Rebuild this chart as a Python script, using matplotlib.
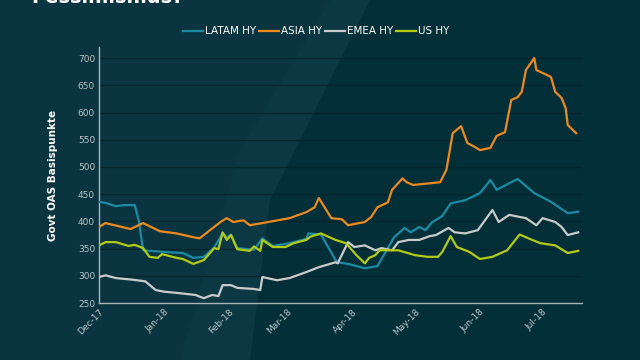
import numpy as np
import pandas as pd
import matplotlib
matplotlib.use("Agg")
import matplotlib.pyplot as plt
import matplotlib.dates as mdates
from matplotlib.patches import Polygon

# --- data (Govt OAS in bp) ---
latam_dates = ["2017-12-01", "2017-12-04", "2017-12-09", "2017-12-13", "2017-12-18", "2017-12-20",
               "2017-12-22", "2017-12-29", "2018-01-05", "2018-01-10", "2018-01-15", "2018-01-20",
               "2018-01-25", "2018-01-29", "2018-01-31", "2018-02-02", "2018-02-05", "2018-02-13",
               "2018-02-17", "2018-02-22", "2018-03-02", "2018-03-10", "2018-03-11", "2018-03-17",
               "2018-03-24", "2018-03-25", "2018-03-30", "2018-04-07", "2018-04-13", "2018-04-21",
               "2018-04-26", "2018-04-29", "2018-05-03", "2018-05-06", "2018-05-09", "2018-05-14",
               "2018-05-18", "2018-05-25", "2018-06-01", "2018-06-06", "2018-06-09", "2018-06-19",
               "2018-06-27", "2018-07-05", "2018-07-13", "2018-07-18"]
latam_vals = [436, 434, 428, 430, 430, 400, 347, 345, 343, 342, 333, 335, 352, 378, 370, 376,
              351, 348, 369, 355, 360, 368, 378, 376, 329, 325, 322, 314, 318, 371, 388, 380,
              390, 384, 398, 410, 433, 439, 452, 476, 458, 478, 452, 436, 415, 418]

asia_dates = ["2017-12-01", "2017-12-04", "2017-12-16", "2017-12-22", "2017-12-30", "2018-01-07",
              "2018-01-15", "2018-01-18", "2018-01-28", "2018-01-31", "2018-02-03", "2018-02-08",
              "2018-02-11", "2018-02-17", "2018-03-02", "2018-03-10", "2018-03-14", "2018-03-16",
              "2018-03-22", "2018-03-27", "2018-03-30", "2018-04-07", "2018-04-10", "2018-04-13",
              "2018-04-18", "2018-04-20", "2018-04-25", "2018-04-27", "2018-04-30", "2018-05-08",
              "2018-05-13", "2018-05-16", "2018-05-19", "2018-05-23", "2018-05-26", "2018-05-29",
              "2018-06-01", "2018-06-06", "2018-06-09", "2018-06-13", "2018-06-16", "2018-06-19",
              "2018-06-21", "2018-06-23", "2018-06-27", "2018-06-28", "2018-07-03", "2018-07-05",
              "2018-07-07", "2018-07-10", "2018-07-12", "2018-07-13", "2018-07-17"]
asia_vals = [390, 397, 386, 397, 382, 378, 371, 369, 399, 406, 399, 402, 393, 397, 406, 417,
             426, 443, 406, 404, 393, 399, 408, 426, 435, 458, 479, 472, 467, 470, 472, 495,
             562, 575, 544, 538, 531, 535, 557, 564, 623, 628, 638, 678, 700, 678, 669, 665,
             638, 627, 608, 577, 562]

emea_dates = ["2017-12-01", "2017-12-04", "2017-12-09", "2017-12-17", "2017-12-23", "2017-12-28",
              "2018-01-01", "2018-01-09", "2018-01-16", "2018-01-20", "2018-01-24", "2018-01-27",
              "2018-01-29", "2018-02-02", "2018-02-05", "2018-02-13", "2018-02-16", "2018-02-17",
              "2018-02-24", "2018-03-02", "2018-03-10", "2018-03-16", "2018-03-24", "2018-03-25",
              "2018-03-30", "2018-04-02", "2018-04-07", "2018-04-12", "2018-04-15", "2018-04-20",
              "2018-04-23", "2018-04-28", "2018-05-03", "2018-05-08", "2018-05-11", "2018-05-17",
              "2018-05-20", "2018-05-25", "2018-05-31", "2018-06-07", "2018-06-10", "2018-06-15",
              "2018-06-23", "2018-06-28", "2018-07-01", "2018-07-07", "2018-07-10", "2018-07-13",
              "2018-07-18"]
emea_vals = [298, 301, 296, 293, 290, 274, 271, 268, 265, 259, 265, 263, 283, 283, 278, 276,
             274, 298, 292, 296, 307, 316, 325, 323, 362, 353, 356, 347, 351, 347, 362, 366,
             366, 373, 375, 388, 380, 378, 384, 421, 399, 412, 406, 393, 406, 399, 390, 375, 380]

us_dates = ["2017-12-01", "2017-12-04", "2017-12-09", "2017-12-15", "2017-12-18", "2017-12-22",
            "2017-12-25", "2017-12-29", "2017-12-31", "2018-01-06", "2018-01-10", "2018-01-15",
            "2018-01-20", "2018-01-25", "2018-01-27", "2018-01-29", "2018-01-31", "2018-02-02",
            "2018-02-05", "2018-02-11", "2018-02-13", "2018-02-16", "2018-02-17", "2018-02-22",
            "2018-02-28", "2018-03-04", "2018-03-10", "2018-03-12", "2018-03-17", "2018-03-24",
            "2018-03-29", "2018-04-03", "2018-04-07", "2018-04-09", "2018-04-12", "2018-04-14",
            "2018-04-23", "2018-05-01", "2018-05-07", "2018-05-12", "2018-05-14", "2018-05-18",
            "2018-05-21", "2018-05-27", "2018-06-01", "2018-06-07", "2018-06-14", "2018-06-20",
            "2018-06-26", "2018-06-30", "2018-07-07", "2018-07-13", "2018-07-18"]
us_vals = [356, 362, 362, 355, 357, 351, 335, 333, 340, 334, 331, 322, 329, 351, 349, 380,
           366, 375, 349, 346, 354, 346, 366, 353, 353, 360, 366, 372, 378, 366, 360, 338,
           323, 333, 338, 347, 347, 338, 335, 335, 344, 373, 353, 344, 331, 335, 347, 376,
           366, 360, 356, 342, 346]

series = [("LATAM HY", latam_dates, latam_vals, "#1a8ba3"),
          ("ASIA HY", asia_dates, asia_vals, "#ec8a1d"),
          ("EMEA HY", emea_dates, emea_vals, "#c9cbcb"),
          ("US HY", us_dates, us_vals, "#b4cb14")]

bg = "#0a3540"
fig = plt.figure(figsize=(6.4, 3.6), dpi=100, facecolor=bg)

# decorative background shapes
deco = fig.add_axes([0, 0, 1, 1], zorder=-5)
deco.set_xlim(0, 640)
deco.set_ylim(360, 0)
deco.axis("off")
deco.add_patch(Polygon([[330, 0], [640, 0], [640, 360], [230, 360], [210, 300], [260, 180]],
                       closed=True, color="#032f39", lw=0))
deco.add_patch(Polygon([[180, 360], [240, 150], [330, 0], [370, 0], [270, 200], [250, 360]],
                       closed=True, color="#0b3843", lw=0))

ax = fig.add_axes([0.155, 0.158, 0.755, 0.711])
ax.set_facecolor("none")

for name, d, v, c in series:
    ax.plot(pd.to_datetime(d), v, color=c, lw=1.6, label=name, zorder=3)

ax.set_ylim(250, 720)
ax.set_yticks(np.arange(250, 701, 50))
ax.set_xlim(pd.Timestamp("2017-12-01"), pd.Timestamp("2018-07-20"))
ax.xaxis.set_major_locator(mdates.MonthLocator())
ax.xaxis.set_major_formatter(mdates.DateFormatter("%b-%y"))

ax.grid(axis="y", color="#06262e", lw=1, zorder=0)
ax.tick_params(length=0, colors="#b9c4c6", labelsize=6.5, pad=3)
for lab in ax.get_xticklabels():
    lab.set_rotation(45)
    lab.set_ha("right")
    lab.set_rotation_mode("anchor")

for s in ["top", "right"]:
    ax.spines[s].set_visible(False)
for s in ["left", "bottom"]:
    ax.spines[s].set_color("#a8b4b6")
    ax.spines[s].set_linewidth(1)

ax.set_ylabel("Govt OAS Basispunkte", color="white", fontsize=7.5,
              fontweight="bold", labelpad=14)

leg = ax.legend(loc="center", bbox_to_anchor=(0.449, 1.0625), ncol=4, frameon=False,
                fontsize=7.5, handlelength=1.9, handletextpad=0.2, columnspacing=0.3)
for t in leg.get_texts():
    t.set_color("white")

# title sits mostly above the visible area, as in the reference
fig.text(0.049, 0.991, "Pessimismus?", color="white", fontsize=14,
         fontweight="bold", va="baseline", ha="left")

fig.savefig("out.png", dpi=100, facecolor=bg)
